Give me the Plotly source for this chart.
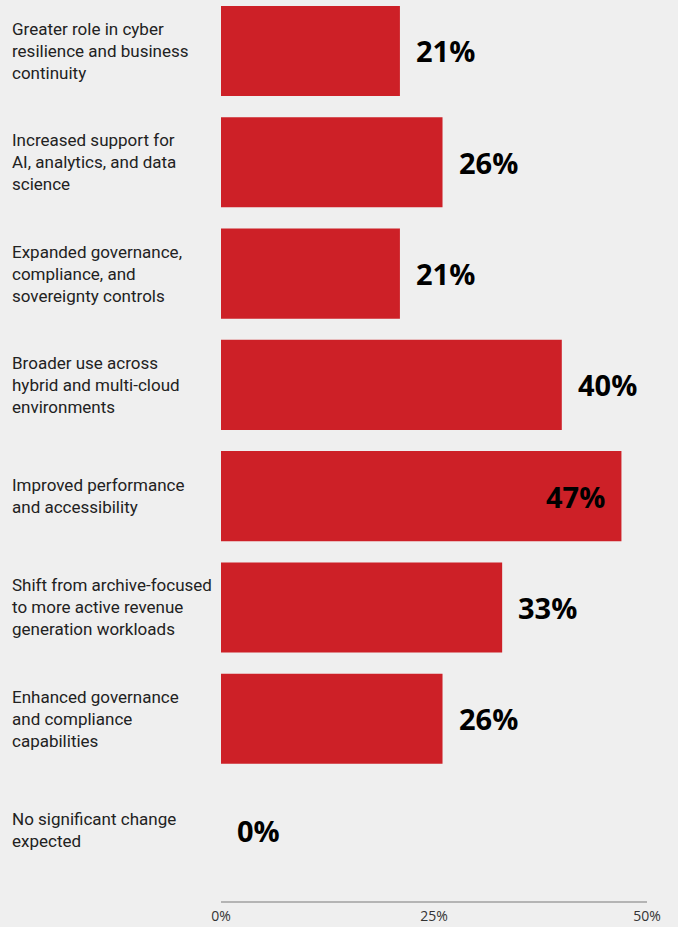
import plotly.graph_objects as go

# Survey responses: expected change in the role of object storage
categories = [
    "Greater role in cyber<br>resilience and business<br>continuity",
    "Increased support for<br>AI, analytics, and data<br>science",
    "Expanded governance,<br>compliance, and<br>sovereignty controls",
    "Broader use across<br>hybrid and multi-cloud<br>environments",
    "Improved performance<br>and accessibility",
    "Shift from archive-focused<br>to more active revenue<br>generation workloads",
    "Enhanced governance<br>and compliance<br>capabilities",
    "No significant change<br>expected",
]
values = [21, 26, 21, 40, 47, 33, 26, 0]
tick_values = [0, 25, 50]
tick_labels = ["0%", "25%", "50%"]

BG = "#efefef"
BAR = "#cd2027"
X_MAX = 50

fig = go.Figure(
    go.Bar(
        x=values,
        y=categories,
        orientation="h",
        marker=dict(color=BAR, line=dict(width=0)),
        hoverinfo="skip",
    )
)

annotations = []
plot_w = 678 - 221 - 31
for cat, v in zip(categories, values):
    # category label, left-aligned near the page edge
    annotations.append(dict(
        x=(10 - 221) / plot_w, xref="paper", xanchor="left",
        y=cat, yref="y", yanchor="middle",
        text=cat, align="left", showarrow=False,
        font=dict(family="Roboto", size=17, color="#222222"),
    ))
    # value label: outside the bar end, or inside when it would run off the axis
    inside = v > X_MAX - 5
    annotations.append(dict(
        x=v, xref="x", xanchor="right" if inside else "left",
        xshift=-14 if inside else 14,
        y=cat, yref="y", yanchor="middle",
        text=f"{v}%", showarrow=False,
        font=dict(family="Open Sans", size=29, color="#000000", weight="bold"),
    ))

fig.update_layout(
    width=678, height=927,
    margin=dict(l=221, r=31, t=0, b=26, pad=0, autoexpand=False),
    paper_bgcolor=BG, plot_bgcolor=BG,
    bargap=0.19,
    showlegend=False,
    annotations=annotations,
    xaxis=dict(
        range=[0, X_MAX], tickvals=tick_values, ticktext=tick_labels,
        showgrid=False, zeroline=False, showline=True,
        linecolor="#b4b4b4", linewidth=1.5, ticks="",
        ticklabelstandoff=1, automargin=False,
        tickfont=dict(family="Open Sans", size=14, color="#333333"),
        fixedrange=True,
    ),
    yaxis=dict(
        type="category", categoryarray=categories,
        range=[7.637, -0.458], automargin=False,
        showticklabels=False, showgrid=False, zeroline=False,
        showline=False, ticks="", fixedrange=True,
    ),
)

fig.write_html("out.html")
